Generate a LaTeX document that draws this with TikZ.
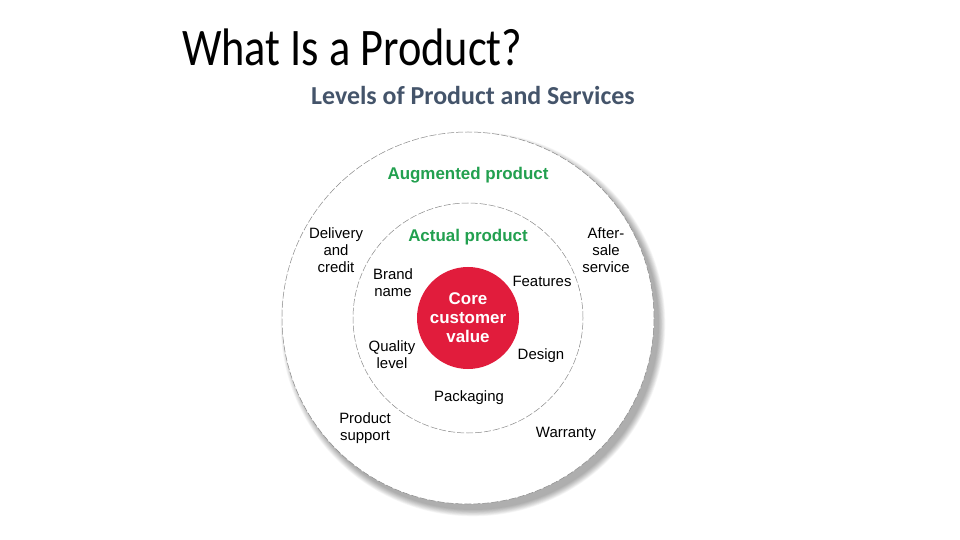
\documentclass[tikz,border=0pt]{standalone}
\usepackage{fontspec}
\setmainfont{Carlito}
\newfontfamily\helv{Liberation Sans}
\usetikzlibrary{positioning}
\definecolor{corered}{HTML}{E11C3C}
\definecolor{levelgreen}{HTML}{22A04F}
\definecolor{subgray}{HTML}{44546A}
\definecolor{ringgray}{HTML}{8A8A8A}

\begin{document}
\begin{tikzpicture}[x=1bp, y=-1bp,
    ring/.style={circle, draw=ringgray, line width=0.5bp, dash pattern=on 7bp off 2bp, inner sep=0pt},
    level/.style={font=\helv\bfseries\fontsize{17}{19}\selectfont, text=levelgreen},
    item/.style={font=\helv\fontsize{15}{17}\selectfont, align=center, inner sep=0pt}]
    \useasboundingbox[fill=white] (0,0) rectangle (960,540);

    % title and subtitle
    \node[anchor=base west, inner sep=0pt] (title) at (182,66) {\scalebox{0.84}[1]{\fontsize{53}{53}\selectfont What Is a Product?}};
    \node[anchor=base west, inner sep=0pt, text=subgray] (subtitle) at (311,105) {\fontsize{26}{28}\selectfont\bfseries Levels of Product and Services};

    % soft shadow of the outer disc
    \foreach \k in {0,...,9}
      \fill[black, opacity=0.035] (473,324) circle ({186+\k*0.7});

    \node[ring, fill=white, minimum size=372bp] (augmented) at (468,318) {};
    \node[ring, minimum size=230bp] (actual) at (468,318) {};
    \node[circle, fill=corered, minimum size=102bp, inner sep=0pt, align=center, text=white,
          font=\helv\bfseries\fontsize{17}{19}\selectfont] (core) at (468,318) {Core\\customer\\value};

    \node[level] (auglabel) at (468,175) {Augmented product};
    \node[level] (actlabel) at (468,237) {Actual product};

    % actual product
    \node[item] (brand) at (393,283) {Brand\\name};
    \node[item] (features) at (542,281) {Features};
    \node[item] (quality) at (392,355) {Quality\\level};
    \node[item] (design) at (541,356) {Design};
    \node[item] (packaging) at (469,398) {Packaging};

    % augmented product
    \node[item] (delivery) at (336,250) {Delivery\\and\\credit};
    \node[item] (aftersale) at (606,250) {After-\\sale\\service};
    \node[item] (support) at (365,428) {Product\\support};
    \node[item] (warranty) at (566,434) {Warranty};
  \end{tikzpicture}
\end{document}
